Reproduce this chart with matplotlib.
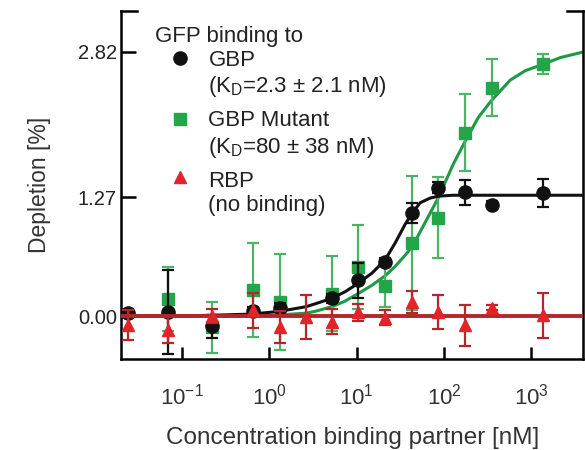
import numpy as np
import matplotlib
matplotlib.use("Agg")
import matplotlib.pyplot as plt
from matplotlib.legend_handler import HandlerLine2D
from matplotlib.ticker import FixedLocator, FormatStrFormatter, LogLocator, NullLocator

plt.rcParams["font.family"] = ["Liberation Sans", "DejaVu Sans"]
plt.rcParams["mathtext.fontset"] = "custom"
plt.rcParams["mathtext.rm"] = "Liberation Sans"

# concentration of binding partner [nM]
conc = [0.024, 0.069, 0.22, 0.65, 1.33, 2.63, 5.2, 10.4, 21.1, 43, 85, 175, 356, 1365]

# GBP (black)
gbp_conc = [0.024, 0.069, 0.22, 0.65, 1.33, 5.2, 10.4, 21.1, 43, 85, 175, 356, 1365]
gbp_val = [0.03, 0.04, -0.11, 0.05, 0.09, 0.19, 0.38, 0.58, 1.10, 1.37, 1.32, 1.19, 1.31]
gbp_err = [0.05, 0.45, 0.12, 0.05, 0.05, 0.05, 0.19, 0.04, 0.11, 0.06, 0.13, 0.04, 0.15]

# GBP mutant (green)
mut_conc = [0.069, 0.22, 0.65, 1.33, 5.2, 10.4, 21.1, 43, 85, 175, 356, 1365]
mut_val = [0.18, -0.12, 0.28, 0.15, 0.24, 0.52, 0.32, 0.78, 1.05, 1.96, 2.44, 2.69]
mut_err = [0.34, 0.27, 0.50, 0.51, 0.40, 0.45, 0.22, 0.72, 0.43, 0.41, 0.30, 0.11]

# RBP (red)
rbp_conc = conc
rbp_val = [-0.10, -0.15, 0.0, 0.06, -0.12, -0.01, -0.06, 0.04, -0.02, 0.15, 0.04, -0.10, 0.09, 0.01]
rbp_err = [0.16, 0.14, 0.07, 0.19, 0.17, 0.23, 0.13, 0.09, 0.08, 0.12, 0.18, 0.22, 0.03, 0.24]

# fitted curves
fit_conc = [0.02, 0.16, 0.60, 1.33, 1.73, 2.63, 3.33, 5.22, 7.36, 10.4, 15.0, 21.1, 27.5,
            35.8, 43.1, 53.2, 69.3, 85.5, 127, 175, 246, 347, 572, 849, 1365, 2138, 3920]
gbp_fit = [0.0, 0.005, 0.02, 0.05, 0.07, 0.10, 0.13, 0.19, 0.26, 0.35, 0.46, 0.60, 0.78,
           0.98, 1.10, 1.21, 1.26, 1.28, 1.29, 1.29, 1.29, 1.29, 1.29, 1.29, 1.29, 1.29, 1.29]
mut_fit = [0.0, 0.0, 0.0, 0.01, 0.02, 0.03, 0.05, 0.10, 0.16, 0.24, 0.33, 0.43, 0.53,
           0.65, 0.74, 0.90, 1.10, 1.26, 1.62, 1.87, 2.12, 2.30, 2.52, 2.62, 2.69, 2.76, 2.82]
rbp_fit = 0.0

yticks = [0.00, 1.27, 2.82]

black = "#111111"
green = "#25a54a"
green_line = "#1e9a45"
green_err = "#4bb565"
red = "#e0242a"
red_line = "#b3262b"


class FirstLineHandler(HandlerLine2D):
    # put the legend marker next to the first line of a two-line label
    def __init__(self, shift, **kw):
        super().__init__(**kw)
        self.shift = shift

    def create_artists(self, legend, orig_handle, xdescent, ydescent, width, height,
                       fontsize, trans):
        arts = super().create_artists(legend, orig_handle, xdescent, ydescent, width,
                                      height, fontsize, trans)
        for a in arts:
            a.set_ydata(np.asarray(a.get_ydata()) + self.shift)
        return arts


fig = plt.figure(figsize=(5.85, 4.5), dpi=100)
ax = fig.add_axes([0.207, 0.202, 0.790, 0.774])

ax.plot(fit_conc, mut_fit, color=green_line, lw=2.2, zorder=2)
ax.plot(fit_conc, gbp_fit, color=black, lw=2.2, zorder=3)
ax.axhline(rbp_fit, color=red_line, lw=2.8, zorder=4)

h_mut = ax.errorbar(mut_conc, mut_val, yerr=mut_err, fmt="s", color=green, ms=8.5,
                    ecolor=green_err, elinewidth=1.6, capsize=4.5, capthick=1.6, zorder=2)
h_gbp = ax.errorbar(gbp_conc, gbp_val, yerr=gbp_err, fmt="o", color=black, ms=9.5,
                    ecolor=black, elinewidth=1.6, capsize=4.5, capthick=1.6, zorder=3)
h_rbp = ax.errorbar(rbp_conc, rbp_val, yerr=rbp_err, fmt="^", color=red, ms=9,
                    ecolor=red_line, elinewidth=1.6, capsize=4.5, capthick=1.6, zorder=5)

ax.set_xscale("log")
ax.set_xlim(0.02, 3920)
ax.set_ylim(-0.46, 3.26)
ax.xaxis.set_major_locator(LogLocator(base=10, numticks=10))
ax.xaxis.set_minor_locator(NullLocator())
ax.yaxis.set_major_locator(FixedLocator(yticks))
ax.yaxis.set_major_formatter(FormatStrFormatter("%.2f"))

ax.tick_params(axis="x", direction="in", length=9, width=1.8, labelsize=16, pad=18,
               labelcolor="#333333")
ax.tick_params(axis="y", direction="in", length=11, width=1.8, labelsize=14.5, pad=3,
               labelcolor="#222222")
ax.tick_params(top=False, right=False)

for s in ["left", "right", "bottom"]:
    ax.spines[s].set_linewidth(1.8)
ax.spines["top"].set_visible(False)
# short caps of the frame at the top corners
ax.plot([0, 0.035], [1, 1], transform=ax.transAxes, color="black", lw=1.8, clip_on=False)
ax.plot([0.965, 1], [1, 1], transform=ax.transAxes, color="black", lw=1.8, clip_on=False)

ax.set_xlabel("Concentration binding partner [nM]", fontsize=17.5, labelpad=12,
              color="#333333")
ax.set_ylabel("Depletion [%]", fontsize=16.5, labelpad=19, color="#333333")

ax.text(0.0736, 0.925, "GFP binding to", transform=ax.transAxes, fontsize=16,
        color="#222222", ha="left", va="center")

labels = ["GBP\n(K$_\\mathregular{D}$=2.3 ± 2.1 nM)",
          "GBP Mutant\n(K$_\\mathregular{D}$=80 ± 38 nM)",
          "RBP\n(no binding)"]
handler = FirstLineHandler(shift=12)
leg = ax.legend([h_gbp[0], h_mut[0], h_rbp[0]], labels,
                handler_map={h_gbp[0]: handler, h_mut[0]: handler, h_rbp[0]: handler},
                loc="upper left", bbox_to_anchor=(0.052, 0.914), frameon=False,
                fontsize=16, handlelength=2.3, handletextpad=0.15,
                labelspacing=0.5, borderaxespad=0, labelcolor="#222222")
for t in leg.get_texts():
    t.set_linespacing(1.2)

fig.savefig("out.png", dpi=100)
